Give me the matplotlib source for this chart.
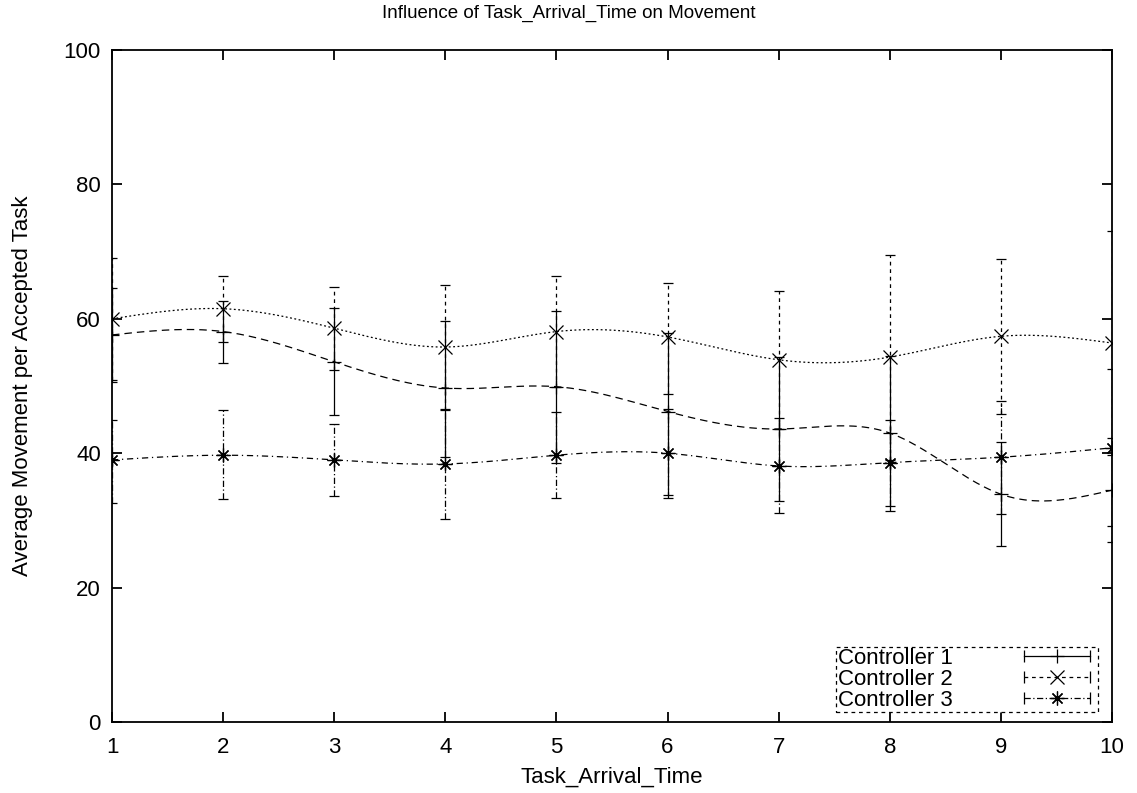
import numpy as np
import matplotlib
matplotlib.use("Agg")
import matplotlib.pyplot as plt
from matplotlib.lines import Line2D
from matplotlib.legend_handler import HandlerLine2D, HandlerTuple

plt.rcParams['font.family'] = ['Liberation Sans', 'DejaVu Sans']

# data
arrival = [1, 2, 3, 4, 5, 6, 7, 8, 9, 10]

c1_mean = [57.6, 58.1, 53.6, 49.7, 49.9, 46.2, 43.6, 43.0, 33.9, 34.5]
c1_low = [50.6, 53.4, 45.7, 39.5, 38.6, 33.8, 32.9, 31.4, 26.2, 29.2]
c1_high = [64.6, 62.7, 61.6, 59.7, 61.2, 57.9, 54.3, 54.5, 41.6, 42.2]

c2_mean = [60.0, 61.5, 58.6, 55.8, 58.1, 57.3, 53.9, 54.3, 57.4, 56.4]
c2_low = [50.9, 56.6, 52.4, 46.5, 49.9, 48.8, 43.6, 39.0, 45.9, 39.7]
c2_high = [69.1, 66.4, 64.8, 65.1, 66.3, 65.4, 64.2, 69.5, 68.9, 73.1]

c3_mean = [39.0, 39.7, 39.0, 38.4, 39.7, 40.0, 38.1, 38.6, 39.4, 40.8]
c3_low = [32.6, 33.2, 33.6, 30.2, 33.3, 33.4, 31.1, 32.1, 31.0, 26.8]
c3_high = [44.9, 46.4, 44.4, 46.6, 46.1, 46.6, 45.2, 44.9, 47.7, 52.5]

labels = ["Controller 1", "Controller 2", "Controller 3"]


def natural_spline(x, y, xs):
    # natural cubic spline, like gnuplot's "smooth csplines"
    x = np.asarray(x, float)
    y = np.asarray(y, float)
    n = len(x)
    h = np.diff(x)
    A = np.zeros((n, n))
    b = np.zeros(n)
    A[0, 0] = 1
    A[-1, -1] = 1
    for i in range(1, n - 1):
        A[i, i - 1] = h[i - 1]
        A[i, i] = 2 * (h[i - 1] + h[i])
        A[i, i + 1] = h[i]
        b[i] = 6 * ((y[i + 1] - y[i]) / h[i] - (y[i] - y[i - 1]) / h[i - 1])
    M = np.linalg.solve(A, b)
    idx = np.clip(np.searchsorted(x, xs) - 1, 0, n - 2)
    x0, x1 = x[idx], x[idx + 1]
    hh = x1 - x0
    t0 = x1 - xs
    t1 = xs - x0
    return (M[idx] * t0**3 / (6 * hh) + M[idx + 1] * t1**3 / (6 * hh)
            + (y[idx] / hh - M[idx] * hh / 6) * t0
            + (y[idx + 1] / hh - M[idx + 1] * hh / 6) * t1)


fig = plt.figure(figsize=(11.37, 7.93), dpi=100)
ax = fig.add_axes([112 / 1137, 71 / 793, 1000 / 1137, 672 / 793])

series = [
    (c1_mean, c1_low, c1_high, '+', '-', (0, (6, 4))),
    (c2_mean, c2_low, c2_high, 'x', (0, (3, 3)), (0, (1.5, 2))),
    (c3_mean, c3_low, c3_high, (8, 2, 0), (0, (5, 2, 1, 2)), (0, (5, 3, 1, 3))),
]

xs = np.linspace(1, 10, 400)
handles = []
for mean, low, high, mk, err_ls, curve_ls in series:
    mean = np.array(mean)
    yerr = [mean - np.array(low), np.array(high) - mean]
    eb = ax.errorbar(arrival, mean, yerr=yerr, fmt='none', ecolor='black',
                     elinewidth=0.9, capsize=3.6, capthick=0.9, zorder=3)
    eb[2][0].set_linestyle(err_ls)
    ax.plot(arrival, mean, ls='none', marker=mk, ms=10, mew=0.9,
            color='black', zorder=4)
    ax.plot(xs, natural_spline(arrival, mean, xs), color='black', lw=0.9,
            ls=curve_ls, zorder=2)
    caps = Line2D([], [], color='black', lw=0.9, ls=err_ls, marker='|',
                  ms=8, mew=0.9)
    mid = Line2D([], [], color='black', ls='none', marker=mk, ms=10, mew=0.9)
    handles.append((caps, mid))

ax.set_xlim(1, 10)
ax.set_ylim(0, 100)
ax.set_xticks(arrival)
ax.set_yticks([0, 20, 40, 60, 80, 100])
ax.tick_params(direction='in', length=7, width=1.3, labelsize=16, pad=8,
               top=True, right=True)
ax.tick_params(axis='x', pad=11)
for s in ax.spines.values():
    s.set_linewidth(1.3)

fig.text(0.5, 1 - 13 / 793, "Influence of Task_Arrival_Time on Movement",
         fontsize=13.5, ha='center', va='center')
ax.set_xlabel("Task_Arrival_Time", fontsize=16, labelpad=6)
ax.set_ylabel("Average Movement per Accepted Task", fontsize=16, labelpad=22)

hmap = {tuple: HandlerTuple(ndivide=1)}
for caps, mid in handles:
    hmap[caps] = HandlerLine2D(numpoints=2)
    hmap[mid] = HandlerLine2D(numpoints=1)

leg = ax.legend(handles, labels, handler_map=hmap, loc='lower right',
                bbox_to_anchor=(0.986, 0.015), markerfirst=False, fontsize=16,
                handlelength=3.6, handletextpad=2.9, labelspacing=0.0,
                borderpad=0.05, borderaxespad=0, fancybox=False, framealpha=1)
frame = leg.get_frame()
frame.set_edgecolor('black')
frame.set_linewidth(0.9)
frame.set_linestyle((0, (3, 3)))

fig.savefig("out.png", dpi=100)
